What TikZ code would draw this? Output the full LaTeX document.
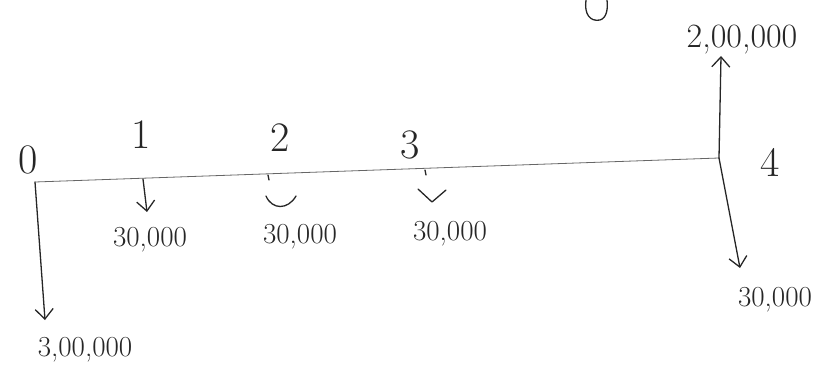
\documentclass[tikz,border=0pt]{standalone}
\usepackage{fontspec}
\usetikzlibrary{arrows.meta}
\begin{document}
\begin{tikzpicture}[x=1pt,y=-1pt,
  ink/.style={line width=1.3pt,draw=black!85,line cap=round,line join=round},
  flow/.style={ink,-{Straight Barb[length=10pt,width=18pt,line width=1.3pt]}},
  digit/.style={font=\fontsize{42}{42}\selectfont,text=black!85,inner sep=0pt},
  amount/.style={font=\fontsize{29}{29}\selectfont,text=black!85,inner sep=0pt}]
\useasboundingbox (0,0) rectangle (830,374);
% time line
\coordinate (t0) at (35,182);
\coordinate (t1) at (143,179);
\coordinate (t2) at (268,175);
\coordinate (t3) at (425,170);
\coordinate (t4) at (719,158);
\draw[ink,line width=0.8pt,black!60] (t0) -- (t4);
% period labels
\node[digit] (n0) at (28,160) {0};
\node[digit] (n1) at (141,135) {1};
\node[digit] (n2) at (280,138) {2};
\node[digit] (n3) at (410,145) {3};
\node[digit] (n4) at (770,162) {4};
% cash flow ends
\coordinate (e0) at (45,320);
\coordinate (e1) at (147,212);
\coordinate (e4d) at (740,268);
\coordinate (e4u) at (721,56);
\draw[flow] (t0) -- (e0);
\draw[flow] (t1) -- (e1);
\draw[flow] (t4) -- (e4u);
\draw[flow] (t4) -- (e4d);
% small marks at 2 and 3
\draw[ink] (t2) -- ++(1,5);
\draw[ink] (t3) -- ++(1,5);
\draw[ink] (266,196) .. controls (272,210) and (288,210) .. (296,196);
\draw[ink] (418,189) -- (432,202) -- (446,190);
% partial mark at top
\draw[ink] (586,0) .. controls (584,14) and (590,22) .. (600,20) .. controls (607,18) and (608,8) .. (607,0);
% amounts
\node[amount] (a0) at (85,350) {3,00,000};
\node[amount] (a1) at (150,240) {30,000};
\node[amount] (a2) at (300,237) {30,000};
\node[amount] (a3) at (450,234) {30,000};
\node[amount] (a4) at (775,300) {30,000};
\node[amount,font=\fontsize{34}{34}\selectfont] (a5) at (742,40) {2,00,000};
\end{tikzpicture}
\end{document}
